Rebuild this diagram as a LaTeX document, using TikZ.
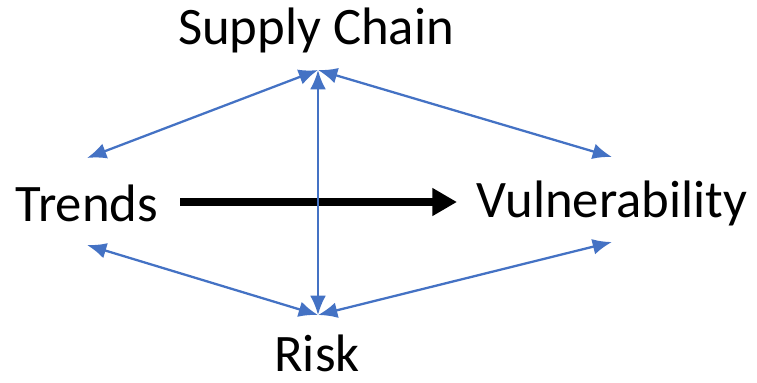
\documentclass[tikz,border=0pt]{standalone}
\usepackage{fontspec}
\setmainfont{Carlito}
\usetikzlibrary{arrows.meta, positioning}
\definecolor{linkblue}{RGB}{68,114,196}
\tikzstyle{every picture} = [x=0.02cm, y=-0.02cm]

\begin{document}
\begin{tikzpicture}
            \useasboundingbox (0,0) rectangle (757,382);
            \node (node supply) at(316,30) [font=\fontsize{30}{36}\selectfont] {Supply Chain};
            \node (node trends) at(87,203) [font=\fontsize{30}{36}\selectfont] {Trends};
            \node (node vuln) at(612,203) [font=\fontsize{30}{36}\selectfont] {Vulnerability};
            \node (node risk) at(317,353) [font=\fontsize{30}{36}\selectfont] {Risk};
            
            \coordinate (top) at(318,70);
            \coordinate (bottom) at(318,315);
            \coordinate (trends up) at(87,158);
            \coordinate (trends down) at(87,245);
            \coordinate (vuln up) at(612,157);
            \coordinate (vuln down) at(612,242);
            \coordinate (main start) at(180,202);
            \coordinate (main end) at(457,202);
            
            \draw[line width=4pt, -{Triangle[length=14pt,width=15pt]}] (main start) -- (main end);
            
            \path[linkblue, line width=1.3pt] 	(top) edge[{Latex[length=11pt,width=9pt]}-{Latex[length=11pt,width=9pt]}] (trends up)
            		(top) edge[{Latex[length=11pt,width=9pt]}-{Latex[length=11pt,width=9pt]}] (vuln up)
            		(top) edge[{Latex[length=11pt,width=9pt]}-{Latex[length=11pt,width=9pt]}] (bottom)
            		(bottom) edge[{Latex[length=11pt,width=9pt]}-{Latex[length=11pt,width=9pt]}] (trends down)
            		(bottom) edge[{Latex[length=11pt,width=9pt]}-{Latex[length=11pt,width=9pt]}] (vuln down);
        \end{tikzpicture}
\end{document}
